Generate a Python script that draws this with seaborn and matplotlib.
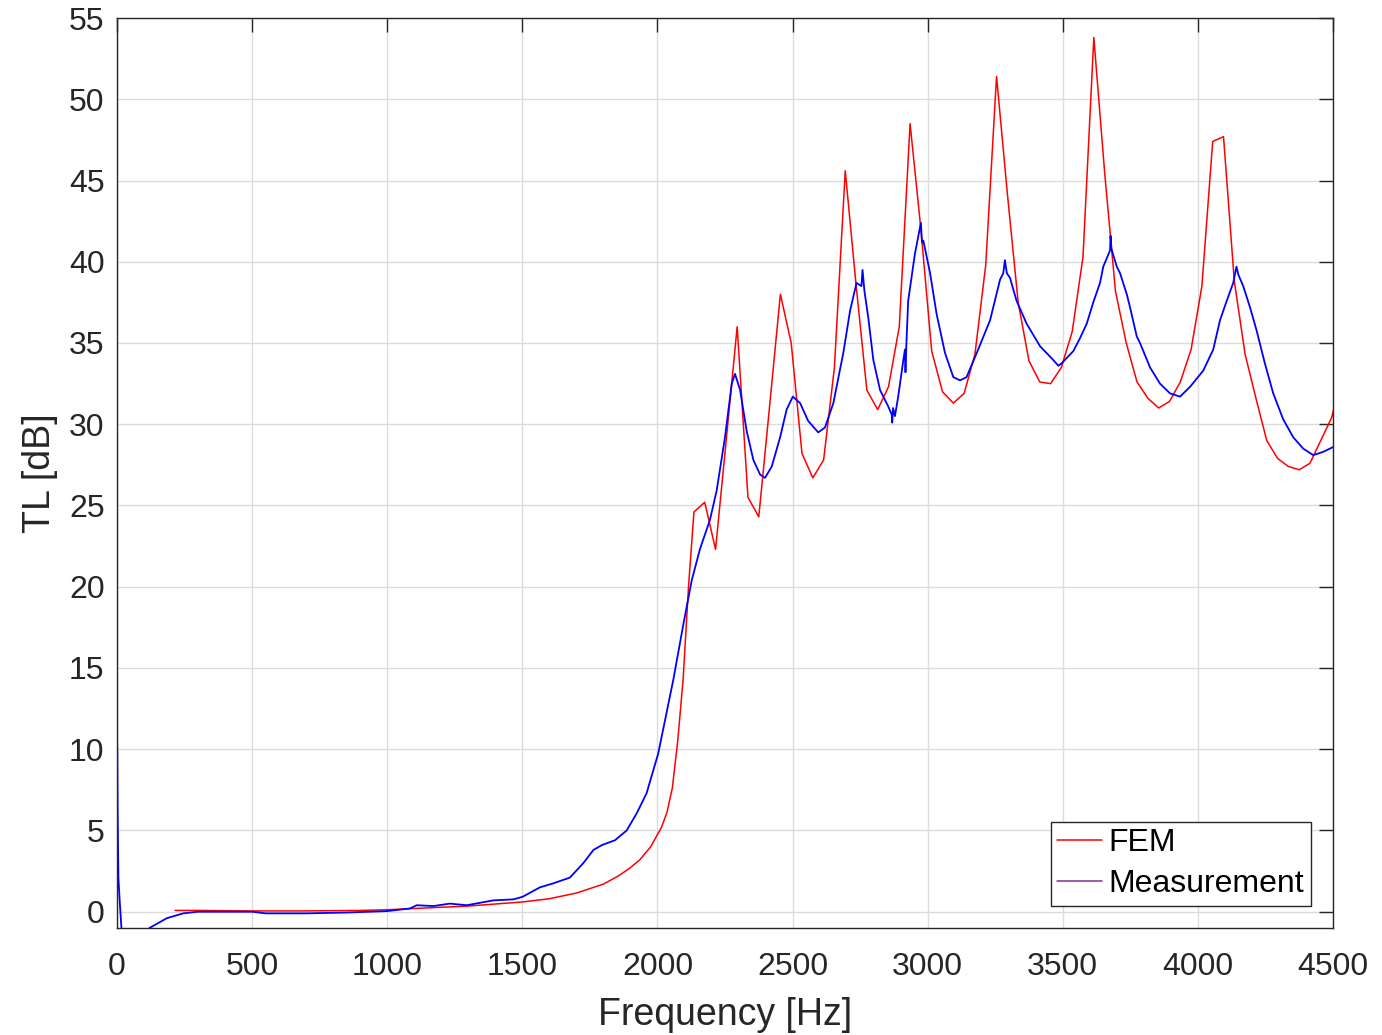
# ============================================
# IMPORTS
# ============================================
import numpy as np
import pandas as pd
import seaborn as sns
import matplotlib.pyplot as plt
from matplotlib.lines import Line2D

sns.set_style("white")
plt.rcParams["font.family"] = ["Liberation Sans", "DejaVu Sans"]

# ============================================
# DADOS
# ============================================
fem_freq = [215, 300, 500, 700, 900, 1000, 1100, 1300, 1500, 1600, 1700, 1800,
            1855, 1895, 1935, 1975, 2015, 2035, 2055, 2075, 2095, 2115, 2135,
            2175, 2215, 2255, 2295, 2335, 2375, 2415, 2455, 2495, 2535, 2575,
            2615, 2655, 2695, 2735, 2775, 2815, 2855, 2895, 2935, 2975, 3015,
            3055, 3095, 3135, 3175, 3215, 3255, 3295, 3335, 3375, 3415, 3455,
            3495, 3535, 3575, 3615, 3655, 3695, 3735, 3775, 3815, 3855, 3895,
            3935, 3975, 4015, 4055, 4095, 4135, 4175, 4215, 4255, 4295, 4335,
            4375, 4415, 4455, 4495, 4535]
fem_tl = [0.08, 0.08, 0.05, 0.05, 0.08, 0.12, 0.2, 0.35, 0.6, 0.8, 1.15, 1.7,
          2.2, 2.65, 3.2, 4.0, 5.2, 6.1, 7.6, 10.5, 14.3, 20.0, 24.6,
          25.2, 22.3, 29.1, 36.0, 25.5, 24.3, 31.1, 38.0, 35.0, 28.2, 26.7,
          27.8, 33.5, 45.6, 38.6, 32.1, 30.9, 32.3, 36.0, 48.5, 42.0, 34.5,
          32.0, 31.3, 31.9, 34.3, 39.8, 51.4, 44.2, 37.5, 33.9, 32.6, 32.5,
          33.5, 35.7, 40.3, 53.8, 45.5, 38.2, 35.0, 32.6, 31.6, 31.0, 31.4,
          32.6, 34.6, 38.5, 47.4, 47.7, 38.8, 34.3, 31.6, 29.0, 27.9, 27.4,
          27.2, 27.6, 29.0, 30.4, 33.0]

meas_freq = [0, 1, 2, 5, 10, 17, 60, 120, 184, 245, 300, 400, 500, 550, 700,
             850, 1000, 1084, 1109, 1171, 1232, 1294, 1393, 1467, 1501, 1565,
             1615, 1676, 1726, 1763, 1794, 1843, 1886, 1923, 1960, 2003, 2059,
             2096, 2127, 2157, 2194, 2219, 2250, 2275, 2287, 2306, 2330, 2355,
             2380, 2398, 2423, 2454, 2478, 2501, 2528, 2558, 2595, 2620, 2651,
             2688, 2713, 2737, 2755, 2759, 2766, 2780, 2799, 2824, 2854, 2867,
             2869, 2872, 2879, 2891, 2910, 2916, 2918, 2921, 2928, 2953, 2969,
             2975, 2979, 2984, 3009, 3033, 3064, 3095, 3120, 3144, 3187, 3231,
             3268, 3280, 3286, 3293, 3305, 3329, 3366, 3416, 3465, 3484, 3496,
             3539, 3564, 3589, 3613, 3638, 3650, 3675, 3677, 3680, 3700, 3712,
             3737, 3749, 3774, 3786, 3823, 3860, 3897, 3934, 3971, 4020, 4057,
             4082, 4107, 4131, 4143, 4150, 4168, 4193, 4217, 4248, 4279, 4316,
             4353, 4390, 4427, 4464, 4501]
meas_tl = [10.6, 9.8, 6.4, 2.1, 0.6, -1.2, -2.5, -1.0, -0.4, -0.1, 0.0, 0.0,
           0.0, -0.1, -0.1, -0.05, 0.04, 0.2, 0.4, 0.35, 0.5, 0.4, 0.7, 0.76,
           0.92, 1.5, 1.75, 2.1, 3.0, 3.8, 4.1, 4.4, 5.0, 6.05, 7.3, 9.75, 14.3,
           17.7, 20.4, 22.3, 24.1, 25.9, 29.2, 32.5, 33.1, 32.1, 29.6, 27.8,
           26.9, 26.7, 27.4, 29.2, 30.9, 31.7, 31.3, 30.2, 29.5, 29.8, 31.3,
           34.4, 37.0, 38.7, 38.5, 39.5, 38.2, 36.6, 33.95, 32.1, 31.1, 30.6,
           30.1, 31.0, 30.5, 31.7, 33.95, 34.6, 33.2, 34.8, 37.6, 40.5, 41.9,
           42.4, 41.2, 41.3, 39.3, 36.8, 34.4, 32.9, 32.7, 32.9, 34.6, 36.4,
           38.9, 39.3, 40.1, 39.3, 39.0, 37.6, 36.2, 34.8, 33.95, 33.6, 33.75,
           34.5, 35.3, 36.2, 37.5, 38.7, 39.7, 40.7, 41.6, 40.8, 39.7, 39.3,
           38.0, 37.2, 35.4, 35.0, 33.5, 32.5, 31.9, 31.7, 32.3, 33.3, 34.6,
           36.4, 37.6, 38.7, 39.7, 39.2, 38.5, 37.2, 35.8, 33.75, 31.9, 30.3,
           29.2, 28.5, 28.1, 28.3, 28.6]

df_fem = pd.DataFrame({"freq": fem_freq, "tl": fem_tl})
df_meas = pd.DataFrame({"freq": meas_freq, "tl": meas_tl})

# ============================================
# GRÁFICO
# ============================================
fig = plt.figure(figsize=(13.82, 10.35), dpi=100)
ax = fig.add_axes([0.0847, 0.1034, 0.8798, 0.8792])

sns.lineplot(data=df_fem, x="freq", y="tl", ax=ax, color="red", lw=1.1,
             estimator=None, sort=False)
sns.lineplot(data=df_meas, x="freq", y="tl", ax=ax, color="blue", lw=1.3,
             estimator=None, sort=False)

ax.set_xlim(0, 4500)
ax.set_ylim(-1, 55)
ax.set_xticks(np.arange(0, 4501, 500))
ax.set_yticks(np.arange(0, 56, 5))

text_color = "#262626"
ax.grid(True, color="#dcdcdc", lw=1.0)
ax.tick_params(direction="in", length=10, width=1.0, top=True, right=True,
               colors=text_color, labelsize=23, pad=9)
ax.tick_params(axis="x", pad=17)
for sp in ax.spines.values():
    sp.set_color(text_color)
    sp.set_linewidth(1.0)

ax.set_xlabel("Frequency [Hz]", fontsize=27, color=text_color, labelpad=11)
ax.set_ylabel("TL [dB]", fontsize=27, color=text_color, labelpad=8)

handles = [Line2D([], [], color="red", lw=1.1),
           Line2D([], [], color="#7E2F8E", lw=1.1)]
leg = ax.legend(handles, ["FEM", "Measurement"], loc="lower right",
                fontsize=23, frameon=True, fancybox=False, framealpha=1,
                edgecolor=text_color, borderaxespad=0.7, borderpad=0.2,
                handlelength=1.4, handletextpad=0.2, labelspacing=0.35)
leg.get_frame().set_linewidth(1.0)
for t in leg.get_texts():
    t.set_color("black")

plt.savefig("out.png", dpi=100)
plt.close()
